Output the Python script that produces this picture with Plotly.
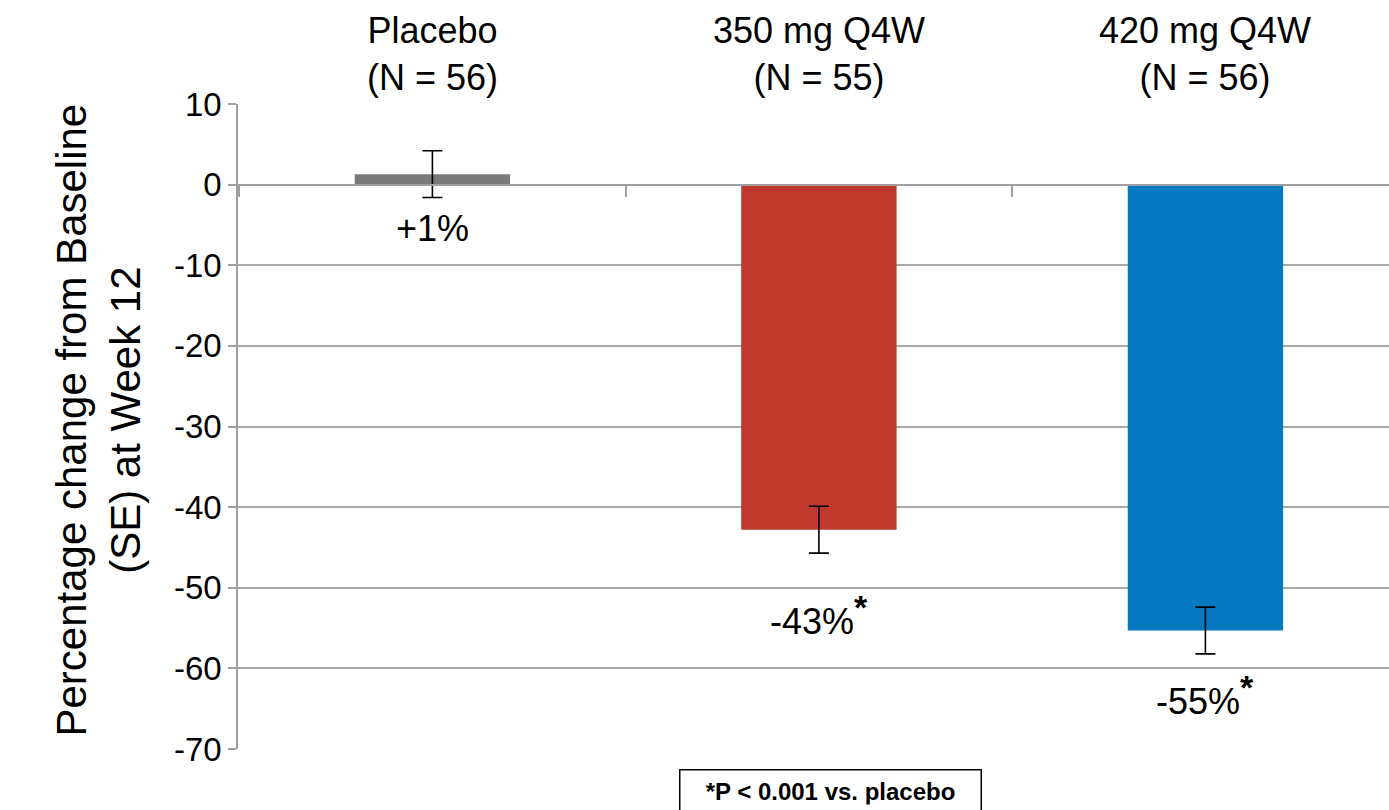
import plotly.graph_objects as go

categories = ["Placebo", "350 mg Q4W", "420 mg Q4W"]
n_labels = ["(N = 56)", "(N = 55)", "(N = 56)"]
values = [1.3, -42.8, -55.3]
se = [2.9, 2.9, 2.9]
value_labels = ["+1%", "-43%", "-55%"]
significant = [False, True, True]
colors = ["#7a7a7a", "#c0392d", "#0678c0"]

y_ticks = [10, 0, -10, -20, -30, -40, -50, -60, -70]

FONT = "Arial, Liberation Sans, sans-serif"
label_shift = [-44, -62, -41]  # pixel offsets of value labels (style)

fig = go.Figure()
fig.add_trace(go.Bar(
    x=categories, y=values, width=0.402,
    marker=dict(color=colors, line=dict(width=0)),
    error_y=dict(type="data", array=se, visible=True, color="black",
                 thickness=1.6, width=10),
    showlegend=False, hoverinfo="skip",
))

annotations = []
for c, n in zip(categories, n_labels):
    annotations.append(dict(
        x=c, xref="x", y=1, yref="paper", yanchor="bottom", xanchor="center",
        text=f"{c}<br>{n}", showarrow=False, yshift=4,
        font=dict(family=FONT, size=36, color="black")))
for c, v, e, lab, sig, sh in zip(categories, values, se, value_labels, significant, label_shift):
    txt = lab + ("<sup><span style='font-size:34px;font-weight:bold'>*</span></sup>" if sig else "")
    annotations.append(dict(
        x=c, xref="x", y=v - e if v < 0 else 0, yref="y", yanchor="middle", xanchor="center",
        text=txt, showarrow=False, yshift=sh,
        font=dict(family=FONT, size=36, color="black")))
annotations.append(dict(
    xref="paper", x=0, yref="paper", y=0.5, xanchor="center", yanchor="middle",
    xshift=-140, yshift=6, textangle=-90, showarrow=False,
    text="Percentage change from Baseline<br>(SE) at Week 12",
    font=dict(family=FONT, size=42, color="black")))
annotations.append(dict(
    xref="x", x=categories[1], yref="paper", y=0, xanchor="center", yanchor="top",
    xshift=12, yshift=-20, showarrow=False, text="<b>*P &lt; 0.001 vs. placebo</b>",
    font=dict(family=FONT, size=24, color="black"), width=286,
    bordercolor="black", borderwidth=1.5, borderpad=7, bgcolor="white"))

fig.update_layout(
    width=1389, height=810,
    margin=dict(l=238, r=0, t=104, b=61),
    plot_bgcolor="white", paper_bgcolor="white",
    annotations=annotations,
    xaxis=dict(
        range=[-0.503, 2.475], anchor="free", position=(0 - (-70)) / 80,
        automargin=False,
        showticklabels=False, showgrid=False, zeroline=False,
        showline=True, linecolor="#a0a0a0", linewidth=1.5,
        ticks="outside", tickson="boundaries", ticklen=12, tickcolor="#a0a0a0", tickwidth=1.5,
    ),
    yaxis=dict(
        range=[-70, 10], tickvals=y_ticks, ticktext=[str(t) for t in y_ticks],
        automargin=False,
        showgrid=True, gridcolor="#a8a8a8", gridwidth=1.5,
        zeroline=False, showline=True, linecolor="#a0a0a0", linewidth=1.5,
        ticks="outside", ticklen=8, tickcolor="#a0a0a0", tickwidth=1.5,
        tickfont=dict(family=FONT, size=33, color="black"),
    ),
)

fig.write_html("out.html", config={"displayModeBar": False},
               post_script="document.body.style.margin='0';")
